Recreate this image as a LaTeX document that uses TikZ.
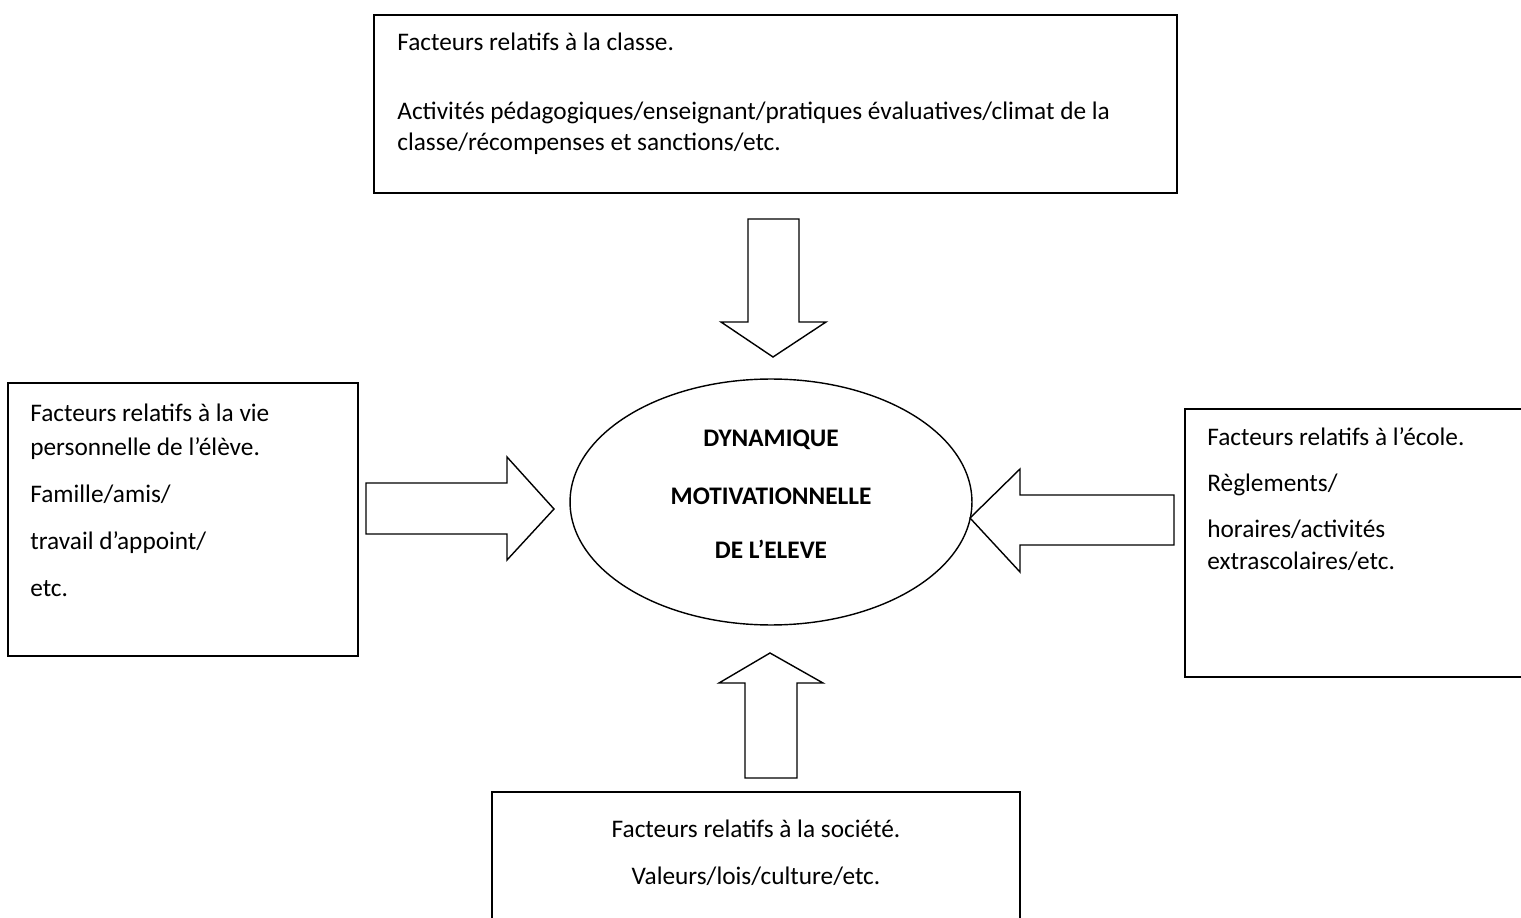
\documentclass[tikz,border=0pt]{standalone}
\usepackage{fontspec}
\setmainfont{Carlito}
\usepackage{tikz}
\usetikzlibrary{shapes}

\begin{document}
\begin{tikzpicture}[x=0.02cm,y=-0.02cm]
  \tikzstyle{every node}=[font=\fontsize{14.4}{17.5}\selectfont,inner sep=0pt]
  \tikzstyle{cadre}=[draw,line width=1.1pt]
  \tikzstyle{ligne}=[anchor=base west]
  \tikzstyle{fleche}=[draw,line width=0.8pt,fill=white]

  \clip (0,0) rectangle (1521,918);

  % les cadres
  \draw[cadre] (374,15) rectangle (1177,193);
  \draw[cadre] (8,383) rectangle (358,656);
  \draw[cadre] (1185,409) rectangle (1540,677);
  \draw[cadre] (492,792) rectangle (1020,940);

  % classe
  \node[ligne] (C1) at (397,51) {Facteurs relatifs à la classe.};
  \node[ligne] (C2) at (397,120) {Activités pédagogiques/enseignant/pratiques évaluatives/climat de la};
  \node[ligne] (C3) at (397,151) {classe/récompenses et sanctions/etc.};

  % vie personnelle
  \node[ligne] (V1) at (30,422) {Facteurs relatifs à la vie};
  \node[ligne] (V2) at (30,456) {personnelle de l’élève.};
  \node[ligne] (V3) at (30,502) {Famille/amis/};
  \node[ligne] (V4) at (30,549) {travail d’appoint/};
  \node[ligne] (V5) at (30,596) {etc.};

  % ecole
  \node[ligne] (E1) at (1207,446) {Facteurs relatifs à l’école.};
  \node[ligne] (E2) at (1207,492) {Règlements/};
  \node[ligne] (E3) at (1207,538) {horaires/activités};
  \node[ligne] (E4) at (1207,569) {extrascolaires/etc.};

  % societe
  \node[anchor=base] (S1) at (756,837) {Facteurs relatifs à la société.};
  \node[anchor=base] (S2) at (756,884) {Valeurs/lois/culture/etc.};

  % centre
  \node[draw,ellipse,line width=0.8pt,minimum width=8.04cm,minimum height=4.92cm] (M) at (771,502) {};
  \node[anchor=base,font=\fontsize{14.4}{17.5}\selectfont\bfseries] (M1) at (771,447) {DYNAMIQUE};
  \node[anchor=base,font=\fontsize{14.4}{17.5}\selectfont\bfseries] (M2) at (771,504) {MOTIVATIONNELLE};
  \node[anchor=base,font=\fontsize{14.4}{17.5}\selectfont\bfseries] (M3) at (771,559) {DE L’ELEVE};

  % les fleches
  \draw[fleche] (748,219) -- (799,219) -- (799,322) -- (826,322) -- (773,357)
                -- (721,322) -- (748,322) -- cycle;
  \draw[fleche] (366,483) -- (507,483) -- (507,457) -- (554,509) -- (507,560)
                -- (507,534) -- (366,534) -- cycle;
  \draw[fleche] (1174,495) -- (1020,495) -- (1020,469) -- (970,518) -- (1020,572)
                -- (1020,545) -- (1174,545) -- cycle;
  \draw[fleche] (745,778) -- (745,683) -- (719,683) -- (770,653) -- (823,683)
                -- (797,683) -- (797,778) -- cycle;
\end{tikzpicture}
\end{document}
